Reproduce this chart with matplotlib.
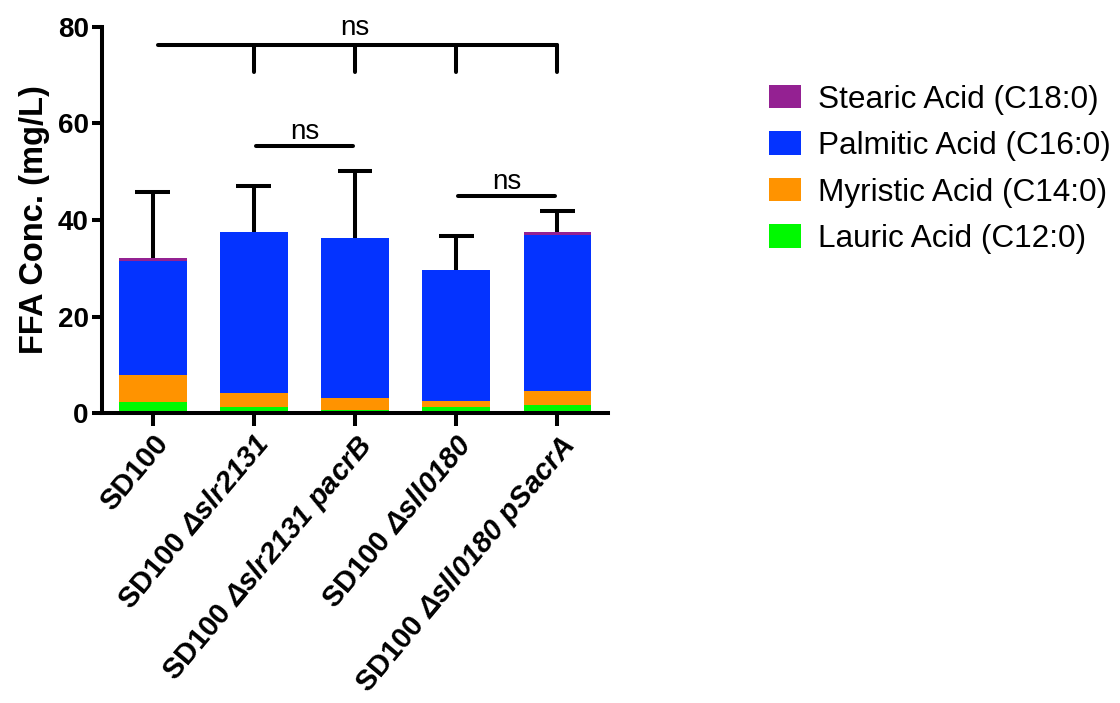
import matplotlib
matplotlib.use("Agg")
import matplotlib.pyplot as plt
import numpy as np

# ---- data -------------------------------------------------------------
strains = [
    "SD100",
    r"SD100 $\mathsf{\Delta slr2131}$",
    r"SD100 $\mathsf{\Delta slr2131}$ $\mathsf{pacrB}$",
    r"SD100 $\mathsf{\Delta sll0180}$",
    r"SD100 $\mathsf{\Delta sll0180}$ $\mathsf{pSacrA}$",
]
lauric = [2.4, 1.3, 0.75, 1.3, 1.7]        # C12:0
myristic = [5.5, 2.9, 2.45, 1.2, 2.9]      # C14:0
palmitic = [23.7, 33.3, 33.1, 27.2, 32.3]  # C16:0
stearic = [0.5, 0.0, 0.0, 0.0, 0.6]        # C18:0
total_sd = [13.7, 9.5, 13.8, 6.9, 4.4]

series_names = ["Lauric Acid (C12:0)", "Myristic Acid (C14:0)",
                "Palmitic Acid (C16:0)", "Stearic Acid (C18:0)"]
series_colors = ["#00F900", "#FF9300", "#0433FF", "#942192"]

yticks = [0, 20, 40, 60, 80]

# ---- style ------------------------------------------------------------
plt.rcParams["font.family"] = ["Liberation Sans", "DejaVu Sans"]
plt.rcParams["mathtext.fontset"] = "custom"
plt.rcParams["mathtext.sf"] = "Liberation Sans:italic:bold"
plt.rcParams["mathtext.rm"] = "Liberation Sans:bold"
plt.rcParams["mathtext.it"] = "Liberation Sans:italic:bold"
plt.rcParams["mathtext.bf"] = "Liberation Sans:bold"

LW = 2.9

fig = plt.figure(figsize=(11.2, 7.03), dpi=100)
ax = fig.add_axes([0.0911, 0.412, 0.4518, 0.550])

x = np.arange(len(strains))
width = 0.67
bottom = np.zeros(len(strains))
handles = []
for vals, name, col in zip([lauric, myristic, palmitic, stearic],
                           series_names, series_colors):
    h = ax.bar(x, vals, width, bottom=bottom, color=col, label=name,
               linewidth=0, zorder=2)
    handles.append(h)
    bottom = bottom + np.array(vals)

# upper-only error bars (SD) on the stacked totals
tops = bottom + np.array(total_sd)
cap = 0.172
ax.vlines(x, bottom, tops, color="black", lw=LW, zorder=1)
ax.hlines(tops, x - cap, x + cap, color="black", lw=LW, zorder=1)

# significance brackets
def hline(x0, x1, y):
    ax.plot([x0, x1], [y, y], color="black", lw=LW, solid_capstyle="round",
            clip_on=False, zorder=3)

top_y, drop_y = 76.2, 70.7
hline(0.05, 4.0, top_y)
for xi in [1, 2, 3, 4]:
    ax.plot([xi, xi], [top_y, drop_y], color="black", lw=LW,
            solid_capstyle="round", clip_on=False, zorder=3)
ax.text(2.0, 78.3, "ns", ha="center", va="baseline", fontsize=20)

hline(1.02, 1.98, 55.4)
ax.text(1.5, 56.8, "ns", ha="center", va="baseline", fontsize=20)

hline(3.02, 3.98, 45.0)
ax.text(3.5, 46.5, "ns", ha="center", va="baseline", fontsize=20)

# axes
ax.set_xlim(-0.5, 4.5)
ax.set_ylim(0, 80)
ax.set_yticks(yticks)
ax.set_yticklabels([str(v) for v in yticks], fontsize=20, fontweight="bold")
ax.set_xticks(x)
ax.set_xticklabels(strains, fontsize=21, fontweight="bold", rotation=50,
                   ha="right", va="top", rotation_mode="anchor")
ax.set_ylabel("FFA Conc. (mg/L)", fontsize=23.5, fontweight="bold",
              labelpad=6)

for side in ["top", "right"]:
    ax.spines[side].set_visible(False)
for side in ["left", "bottom"]:
    ax.spines[side].set_linewidth(LW)
ax.tick_params(axis="y", direction="out", length=7.5, width=LW, pad=2)
ax.tick_params(axis="x", direction="out", length=9, width=LW, pad=3)

# legend, top series first
fig.legend(handles[::-1], series_names[::-1], loc="upper left",
           bbox_to_anchor=(0.687, 0.8795), frameon=False, fontsize=22.7,
           handlelength=1.0, handleheight=0.76, handletextpad=0.55,
           labelspacing=0.52, borderaxespad=0, borderpad=0)

fig.savefig("out.png", dpi=100)
